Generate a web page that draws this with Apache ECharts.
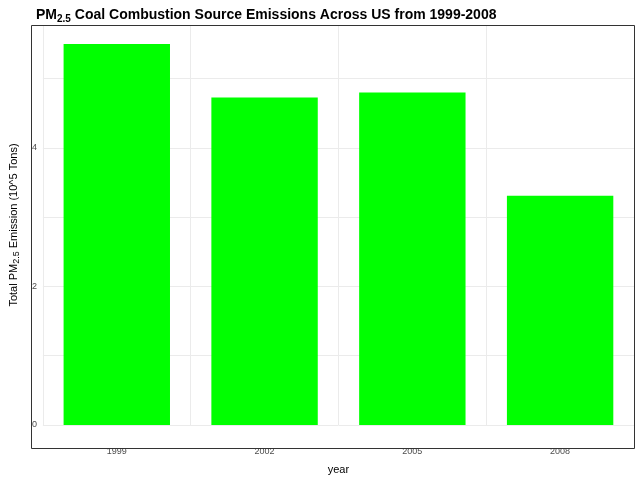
<!DOCTYPE html>
<html>
<head>
<meta charset="utf-8">
<script src="https://cdn.jsdelivr.net/npm/echarts@6/dist/echarts.min.js"></script>
</head>
<body style="margin:0">
<div id="main" style="width:640px;height:480px;"></div>
<script>
var years = ['1999', '2002', '2005', '2008'];
var emissions = [5.50, 4.73, 4.80, 3.31];

var chart = echarts.init(document.getElementById('main'));
var sub = { fontSize: 9, verticalAlign: 'bottom', padding: [6, 0, 0, 0], fontFamily: 'Liberation Sans', color: '#000' };
chart.setOption({
  animation: false,
  title: {
    text: '{a|PM}{s|2.5}{a| Coal Combustion Source Emissions Across US from 1999-2008}',
    left: 31, top: 1,
    textStyle: { rich: { a: { fontSize: 14, fontFamily: 'Liberation Sans', color: '#000' }, s: { fontSize: 10, padding: [8, 0, 0, 0], fontFamily: 'Liberation Sans', color: '#000' } } }
  },
  grid: { left: 31, right: 6, top: 25, bottom: 51 },
  xAxis: {
    type: 'category', data: years,
    name: 'year', nameLocation: 'middle', nameGap: 39,
    nameTextStyle: { fontSize: 11, color: '#000', fontFamily: 'Liberation Sans' },
    axisLine: { show: false }, axisTick: { show: false },
    axisLabel: { margin: 22, fontSize: 9, color: '#4d4d4d', fontFamily: 'Liberation Sans' },
    splitLine: { show: true, lineStyle: { color: '#ebebeb' } }
  },
  yAxis: {
    type: 'value', min: 0, max: 5.775, interval: 1,
    name: '{a|Total PM}{s|2.5}{a| Emission (10^5 Tons)}',
    nameLocation: 'middle', nameGap: 20,
    nameTextStyle: { rich: { a: { fontSize: 11, fontFamily: 'Liberation Sans', color: '#000' }, s: sub } },
    axisLine: { show: false }, axisTick: { show: false },
    axisLabel: { fontSize: 9, color: '#4d4d4d', margin: 6, fontFamily: 'Liberation Sans',
      formatter: function (v) { return (v % 2 === 0) ? String(v) : ''; } },
    splitLine: { lineStyle: { color: '#ebebeb' } }
  },
  graphic: [{ type: 'rect', shape: { x: 31.5, y: 25.5, width: 603, height: 423 }, style: { fill: 'none', stroke: '#333', lineWidth: 1 }, z: 100 }],
  series: [{ type: 'bar', data: emissions, barWidth: '72%', itemStyle: { color: '#00ff00' } }]
});
</script>
</body>
</html>
